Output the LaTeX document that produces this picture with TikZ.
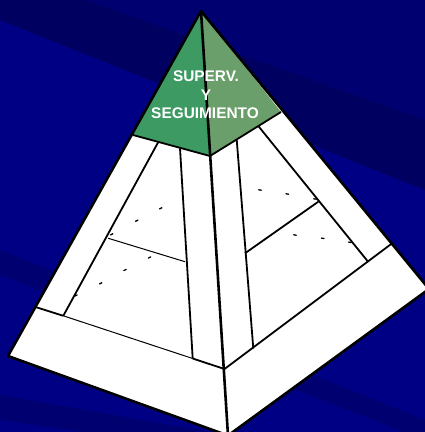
\documentclass[tikz,border=0pt]{standalone}
\usepackage{fontspec}
\setmainfont{Liberation Sans}
\begin{document}
\begin{tikzpicture}[x=1pt,y=-1pt,
  edge/.style={line width=2.6pt,line join=round},
  inner/.style={line width=1.8pt},
  thin/.style={line width=1pt},
  tinymark/.style={line width=1.3pt,line cap=round},
  lbl/.style={text=white,font=\bfseries\fontsize{15.4}{18.5}\selectfont,align=center,inner sep=0pt}]
\definecolor{bgbase}{RGB}{0,0,132}
\definecolor{bgdark}{RGB}{0,0,96}
\definecolor{bgmid}{RGB}{0,0,112}
\definecolor{greenL}{RGB}{60,154,98}
\definecolor{greenR}{RGB}{106,158,106}
\useasboundingbox (0,0) rectangle (425,432);
% background
\fill[bgbase] (0,0) rectangle (425,432);
\fill[bgmid] (0,0) -- (425,0) -- (425,150) -- (0,-20) -- cycle;
\fill[bgdark] (0,20) -- (425,190) -- (425,120) -- (0,-30) -- cycle;
\fill[bgmid] (0,250) -- (425,420) -- (425,440) -- (0,275) -- cycle;
\fill[bgmid] (0,395) -- (425,470) -- (425,480) -- (0,420) -- cycle;
% key points
\coordinate (A) at (201,11);
\coordinate (L) at (8,356);
\coordinate (R) at (429,289);
\coordinate (B) at (228,435.5);
\coordinate (GL) at (133,135);
\coordinate (GC) at (210,156);
\coordinate (GR) at (281,112);
\coordinate (BL) at (35.5,307);
\coordinate (BC) at (224.5,369);
\coordinate (BR) at (392.5,243);
% faces
\fill[white] (A) -- (R) -- (B) -- (L) -- cycle;
\fill[greenL] (A) -- (GL) -- (GC) -- cycle;
\fill[greenR] (A) -- (GC) -- (GR) -- cycle;
% left face inner lines
\coordinate (l1t) at (158.3,142);
\coordinate (l1b) at (63.3,315.8);
\coordinate (l2t) at (180,148.3);
\coordinate (l2b) at (192.7,358.5);
\coordinate (hl1) at (108.3,238.3);
\coordinate (hl2) at (185,261.7);
\draw[inner] (l1t) -- (l1b);
\draw[inner] (l2t) -- (l2b);
\draw[thin] (hl1) -- (hl2);
\draw[inner] (BL) -- (l1b);
\draw[thin] (l1b) -- (l2b);
\draw[inner] (l2b) -- (BC);
% right face inner lines
\coordinate (r1t) at (236.7,139.5);
\coordinate (r1b) at (253.3,348.5);
\coordinate (r2t) at (258.3,126);
\coordinate (r2b) at (368.3,262);
\coordinate (hr1) at (245,253.3);
\coordinate (hr2) at (318.3,201.7);
\draw[inner] (r1t) -- (r1b);
\draw[inner] (r2t) -- (r2b);
\draw[inner] (hr1) -- (hr2);
\draw[inner] (BC) -- (BR);
% green boundary
\draw[inner] (GL) -- (GC) -- (GR);
% ridge
\draw[edge] (A) -- (B);
% outline
\draw[edge] (A) -- (R) -- (B) -- (L) -- cycle;
% tiny marks
\foreach \p in {(160.7,208.3),(136.7,220.7),(111.7,234.3),(149.5,257.5),(125,270),(100.7,283.3),(76,295.5)}
  \draw[tinymark] \p ++(-1.2,0.6) -- ++(2.4,-1.2);
\foreach \p in {(260,190),(287.3,194),(315,199),(295,235),(322.7,238.3),(350,242.3)}
  \draw[tinymark] \p ++(-1.3,-0.2) -- ++(2.6,0.4);
% label
\node[lbl] (t1) at (206,76) {SUPERV.};
\node[lbl] (t2) at (206,95) {Y};
\node[lbl] (t3) at (205,113.5) {SEGUIMIENTO};
\end{tikzpicture}
\end{document}
